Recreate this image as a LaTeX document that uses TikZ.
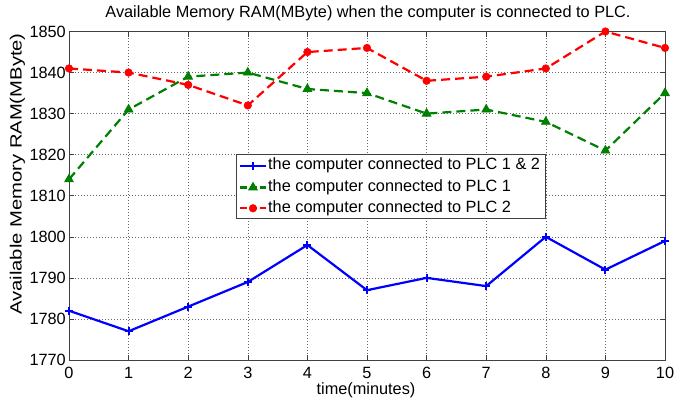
\documentclass[tikz,border=0pt]{standalone}
\usepackage{fontspec}
\setmainfont{Liberation Sans}
\usetikzlibrary{plotmarks}
\begin{document}
\begin{tikzpicture}[x=1pt,y=1pt,
  lbl/.style={inner sep=0pt, font=\fontsize{16.3}{19}\selectfont},
  gridline/.style={gray!80!black, line width=0.6pt, dash pattern=on 1pt off 2pt},
  frameline/.style={black!75, line width=0.9pt},
  seriesA/.style={blue, line width=2.2pt, mark=+, mark size=4pt,
    mark options={solid, line width=2pt}},
  seriesB/.style={green!50!black, line width=2.2pt, dash pattern=on 9pt off 5pt,
    mark=triangle*, mark size=5pt, mark options={solid, line width=0.8pt}},
  seriesC/.style={red, line width=2.2pt, dash pattern=on 9pt off 5pt,
    mark=*, mark size=3.8pt, mark options={solid, line width=0.5pt}}]
\useasboundingbox (0,0) rectangle (690,403);

% title and axis labels
\node[lbl] (title) at (368,390) {Available Memory RAM(MByte) when the computer is connected to PLC.};
\node[lbl] (xlabel) at (366,13) {time(minutes)};
\node[lbl, rotate=90] (ylabel) at (17.5,229) {\scalebox{1.24}[1]{Available Memory RAM(MByte)}};

\begin{scope}[shift={(69pt,43pt)}, x=59.6pt, y=4.106pt]
  % grid
  \foreach \i in {1,...,9}
    \draw[gridline] (\i,0) -- (\i,80);
  \foreach \v in {10,20,...,70}
    \draw[gridline] (0,\v) -- (10,\v);
  % ticks
  \foreach \i in {0,...,10} {
    \draw[frameline, line width=0.6pt] (\i,0) -- ++(0,5pt);
    \draw[frameline, line width=0.6pt] (\i,80) -- ++(0,-5pt);
    \node[lbl] (xt\i) at ([yshift=-12.5pt]\i,0) {\i};
  }
  \foreach \v [evaluate=\v as \lab using int(1770+\v)] in {0,10,...,80} {
    \draw[frameline, line width=0.6pt] (0,\v) -- ++(5pt,0);
    \draw[frameline, line width=0.6pt] (10,\v) -- ++(-5pt,0);
    \node[lbl, anchor=east] (yt\v) at ([xshift=-3pt]0,\v) {\lab};
  }
  % axes frame
  \draw[frameline] (0,0) rectangle (10,80);

  % data series
  \draw[seriesB] plot coordinates {(0,44) (1,61) (2,69) (3,70) (4,66) (5,65)
    (6,60) (7,61) (8,58) (9,51) (10,65)};
  \draw[seriesC] plot coordinates {(0,71) (1,70) (2,67) (3,62) (4,75) (5,76)
    (6,68) (7,69) (8,71) (9,80) (10,76)};
  \draw[seriesA] plot coordinates {(0,12) (1,7) (2,13) (3,19) (4,28) (5,17)
    (6,20) (7,18) (8,30) (9,22) (10,29)};
\end{scope}

% legend
\draw[black!75, line width=0.9pt, fill=white] (236,185) rectangle (545,249);
\draw[seriesA, mark=none] (240,237.3) -- (266,237.3);
\draw[seriesA] plot coordinates {(253,237.3)};
\draw[seriesB, mark=none, dash pattern=on 7pt off 3pt] (240,215.5) -- (266,215.5);
\draw[seriesB] plot coordinates {(253,215.5)};
\draw[seriesC, mark=none, dash pattern=on 7pt off 3pt] (240,194.7) -- (266,194.7);
\draw[seriesC] plot coordinates {(253,194.7)};
\node[lbl, anchor=west] (legA) at (268,237.3) {the computer connected to PLC 1 \& 2};
\node[lbl, anchor=west] (legB) at (268,215.5) {the computer connected to PLC 1};
\node[lbl, anchor=west] (legC) at (268,194.7) {the computer connected to PLC 2};
\end{tikzpicture}
\end{document}
